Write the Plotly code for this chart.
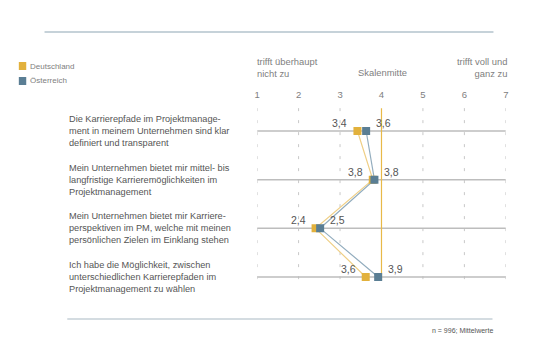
import plotly.graph_objects as go

# ---- data ----
statements = [
    "Die Karrierepfade im Projektmanage-<br>ment in meinem Unternehmen sind klar<br>definiert und transparent",
    "Mein Unternehmen bietet mir mittel- bis<br>langfristige Karrieremöglichkeiten im<br>Projektmanagement",
    "Mein Unternehmen bietet mir Karriere-<br>perspektiven im PM, welche mit meinen<br>persönlichen Zielen im Einklang stehen",
    "Ich habe die Möglichkeit, zwischen<br>unterschiedlichen Karrierepfaden im<br>Projektmanagement zu wählen",
]
series_names = ["Deutschland", "Österreich"]
deutschland = [3.42, 3.79, 2.41, 3.62]
oesterreich = [3.63, 3.83, 2.52, 3.92]
scale_ticks = [1, 2, 3, 4, 5, 6, 7]
scale_mid = 4
footnote = "n = 996; Mittelwerte"

# ---- style ----
W, H = 538, 357
C_DE = "#E2B13C"
C_AT = "#5A7E94"
C_DE_LINE = "#EFCF86"
C_AT_LINE = "#93ADBE"
TXT = "#555555"
TXT_L = "#808080"
FONT = "Liberation Sans, Arial, sans-serif"

rows = list(range(len(statements)))
ROW0_PX, ROW_STEP = 131, 48.67
X1_PX, X7_PX = 257, 508.5


def px(x):
    return x / W


def py(y):
    return 1 - y / H


fig = go.Figure()

# connecting lines + markers
for vals, name, c, lc in [(deutschland, series_names[0], C_DE, C_DE_LINE),
                          (oesterreich, series_names[1], C_AT, C_AT_LINE)]:
    fig.add_trace(go.Scatter(
        x=vals, y=rows, mode="lines", line=dict(color=lc, width=1.2),
        showlegend=False, hoverinfo="skip"))
for vals, name, c in [(deutschland, series_names[0], C_DE),
                      (oesterreich, series_names[1], C_AT)]:
    fig.add_trace(go.Scatter(
        x=vals, y=rows, mode="markers", name=name,
        marker=dict(symbol="square", size=8, color=c, line=dict(width=0)),
        showlegend=False))

shapes = []
# dashed vertical gridlines
for t in scale_ticks:
    if t == scale_mid:
        continue
    shapes.append(dict(type="line", xref="x", yref="y", x0=t, x1=t, y0=-0.47, y1=3.07,
                       line=dict(color="#C8C8C8", width=1, dash="3px,9px"), layer="below"))
# row lines
for r in rows:
    shapes.append(dict(type="line", xref="x", yref="y", x0=scale_ticks[0], x1=scale_ticks[-1],
                       y0=r, y1=r, line=dict(color="#BDBDBD", width=1.5), layer="below"))
# scale middle line
shapes.append(dict(type="line", xref="x", yref="y", x0=scale_mid, x1=scale_mid, y0=-0.47, y1=3.07,
                   line=dict(color="#E8B948", width=1.2), layer="below"))
# top / bottom rules
shapes.append(dict(type="line", xref="paper", yref="paper", x0=px(42), x1=px(496), y0=py(32), y1=py(32),
                   line=dict(color="#8EA5B4", width=1.2)))
shapes.append(dict(type="line", xref="paper", yref="paper", x0=px(65), x1=px(495), y0=py(319), y1=py(319),
                   line=dict(color="#A9B9C4", width=1.2)))
# legend squares
shapes.append(dict(type="rect", xref="paper", yref="paper", x0=px(16), x1=px(23.5), y0=py(70), y1=py(62),
                   fillcolor=C_DE, line=dict(width=0)))
shapes.append(dict(type="rect", xref="paper", yref="paper", x0=px(16), x1=px(23.5), y0=py(85), y1=py(77),
                   fillcolor=C_AT, line=dict(width=0)))

ann = []
# legend texts
ann.append(dict(xref="paper", yref="paper", x=px(25.5), y=py(66), text=series_names[0], showarrow=False,
                xanchor="left", yanchor="middle", font=dict(size=8, color=TXT_L, family=FONT)))
ann.append(dict(xref="paper", yref="paper", x=px(25.5), y=py(81), text=series_names[1], showarrow=False,
                xanchor="left", yanchor="middle", font=dict(size=8, color=TXT_L, family=FONT)))
# header texts
ann.append(dict(xref="paper", yref="paper", x=px(255), y=py(67), text="trifft überhaupt<br>nicht zu",
                showarrow=False, xanchor="left", yanchor="middle", align="left",
                font=dict(size=9.4, color=TXT_L, family=FONT)))
ann.append(dict(xref="paper", yref="paper", x=px(383.5), y=py(73), text="Skalenmitte",
                showarrow=False, xanchor="center", yanchor="middle",
                font=dict(size=9.4, color=TXT_L, family=FONT)))
ann.append(dict(xref="paper", yref="paper", x=px(512), y=py(67), text="trifft voll und<br>ganz zu",
                showarrow=False, xanchor="right", yanchor="middle", align="right",
                font=dict(size=9.4, color=TXT_L, family=FONT)))
# statements
for r, s in zip(rows, statements):
    ann.append(dict(xref="paper", yref="y", x=px(64.5), y=r, text=s, showarrow=False,
                    xanchor="left", yanchor="middle", align="left",
                    font=dict(size=9.2, color=TXT, family=FONT)))
# value labels
for r, v in zip(rows, deutschland):
    ann.append(dict(x=v, y=r, text=f"{v:.1f}".replace(".", ","), showarrow=False,
                    xanchor="right", yanchor="middle", xshift=-8, yshift=8,
                    font=dict(size=10.5, color=TXT, family=FONT)))
for r, v in zip(rows, oesterreich):
    ann.append(dict(x=v, y=r, text=f"{v:.1f}".replace(".", ","), showarrow=False,
                    xanchor="left", yanchor="middle", xshift=8, yshift=8,
                    font=dict(size=10.5, color=TXT, family=FONT)))
# footnote
ann.append(dict(xref="paper", yref="paper", x=px(498), y=py(330), text=footnote, showarrow=False,
                xanchor="right", yanchor="middle", font=dict(size=7, color=TXT, family=FONT)))

# axis ranges mapped to pixel layout
y_top = -ROW0_PX / ROW_STEP
y_bot = (H - ROW0_PX) / ROW_STEP

fig.update_layout(
    width=W, height=H, margin=dict(l=0, r=0, t=0, b=0),
    paper_bgcolor="white", plot_bgcolor="rgba(0,0,0,0)",
    shapes=shapes, annotations=ann, showlegend=False,
    xaxis=dict(domain=[px(X1_PX), px(X7_PX)], range=[1, 7], showgrid=False, zeroline=False,
               showline=False, tickmode="array", tickvals=scale_ticks,
               ticktext=[str(t) for t in scale_ticks], side="top", anchor="free", position=py(100),
               ticks="", tickfont=dict(size=9.5, color=TXT_L, family=FONT), ticklabelstandoff=0,
               fixedrange=True),
    yaxis=dict(domain=[0, 1], range=[y_bot, y_top], visible=False, fixedrange=True),
)

fig.write_html("out.html", config={"displayModeBar": False},
               post_script="document.body.style.margin='0';document.body.style.overflow='hidden';")
